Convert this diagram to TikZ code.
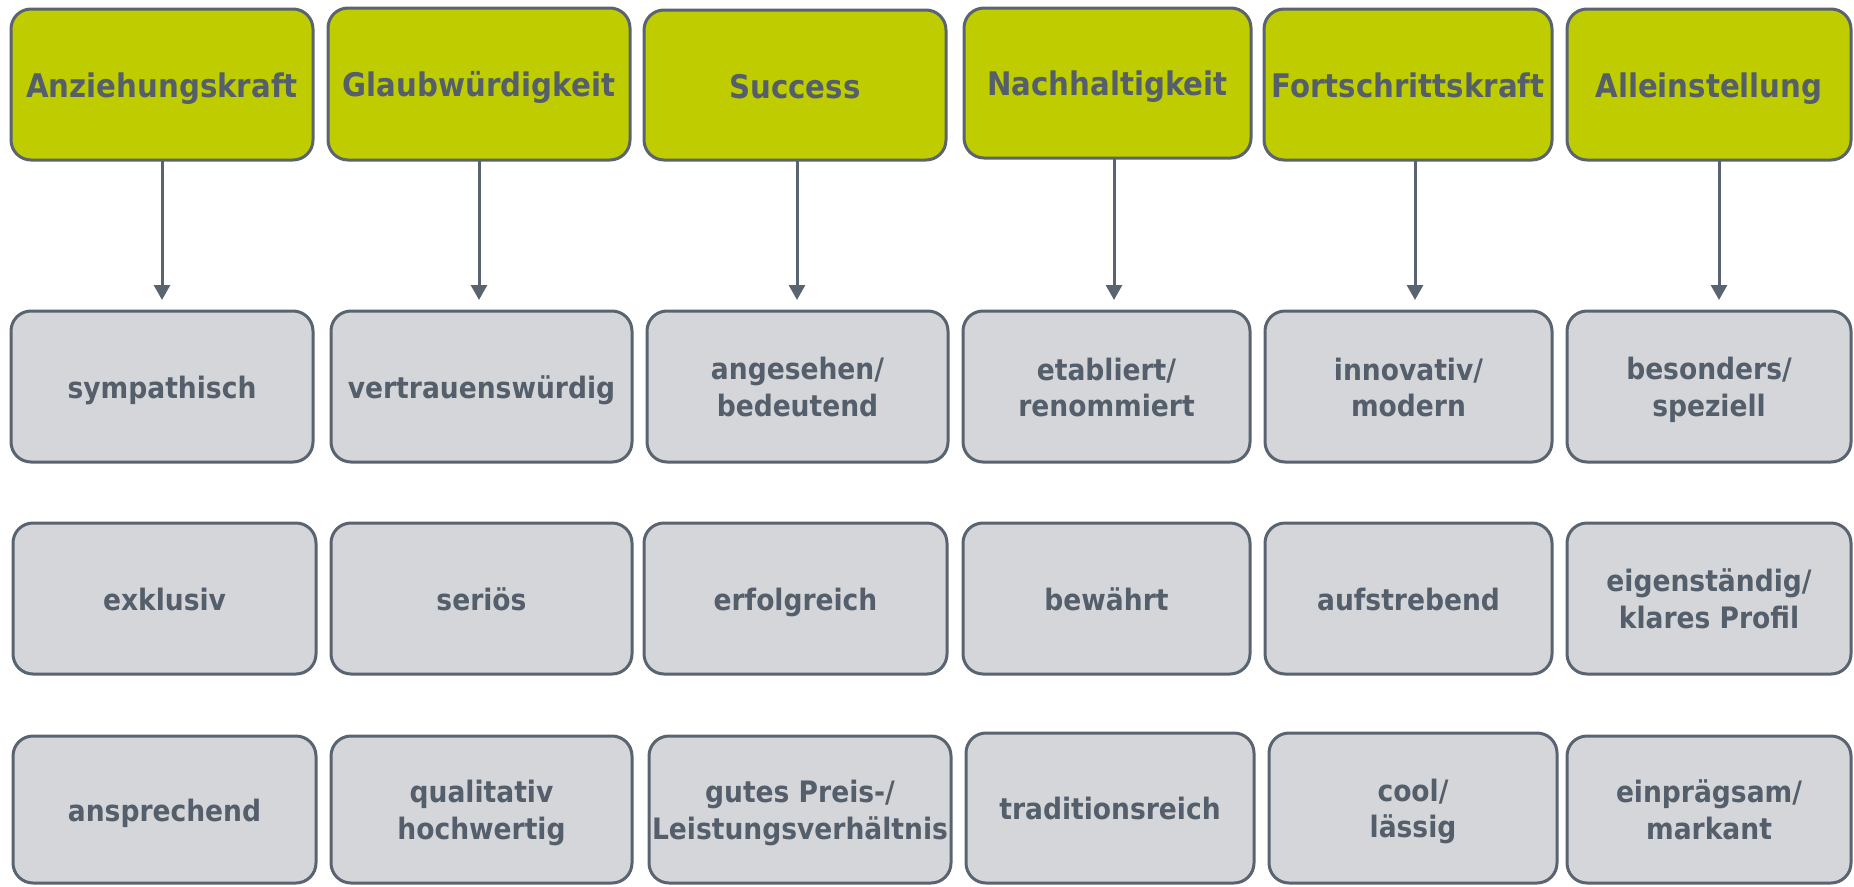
\documentclass[tikz,border=0pt]{standalone}
\usepackage{fontspec}
\setmainfont{DejaVu Sans Condensed}[BoldFont={DejaVu Sans Condensed Bold}]
\usetikzlibrary{arrows.meta}
\definecolor{lime}{HTML}{BFCD00}
\definecolor{edge}{HTML}{5A6470}
\definecolor{txt}{HTML}{545F6B}
\definecolor{boxgray}{HTML}{D4D6DA}
\newcommand{\mystrut}{\vrule width 0pt height 1.0em depth 0.2em\relax}
\newcommand{\nl}{\\\mystrut}
\tikzset{
  base/.style={draw=edge, line width=3pt, rounded corners=20pt, inner sep=0pt, outer sep=0pt,
    text=txt, align=center},
  head/.style={base, fill=lime, font=\fontsize{32.5}{38}\selectfont\bfseries},
  attr/.style={base, fill=boxgray, font=\fontsize{29.5}{35}\selectfont\bfseries},
  arr/.style={draw=edge, line width=3pt, -{Triangle[width=16pt,length=15pt]}},
}
\newcommand{\bx}[7]{%
  \pgfmathsetmacro{\cx}{(#2+#4)/2}\pgfmathsetmacro{\cy}{(#3+#5)/2}%
  \pgfmathsetmacro{\ww}{#4-#2}\pgfmathsetmacro{\hh}{#5-#3}%
  \node[#6, minimum width=\ww pt, minimum height=\hh pt] (#1) at (\cx,\cy) {\mystrut #7};}
\begin{document}
\begin{tikzpicture}[x=1pt,y=-1pt]
\useasboundingbox (0,0) rectangle (1854,886);
% header row
\bx{t1}{11}{9}{313}{160}{head}{Anziehungskraft}
\bx{t2}{328}{8}{630}{160}{head}{Glaubwürdigkeit}
\bx{t3}{644}{10}{946}{160}{head}{Success}
\bx{t4}{964}{8}{1251}{158}{head}{Nachhaltigkeit}
\bx{t5}{1264}{9}{1552}{160}{head}{Fortschrittskraft}
\bx{t6}{1567}{9}{1851}{160}{head}{Alleinstellung}
% row 2
\bx{a1}{11}{311}{313}{462}{attr}{sympathisch}
\bx{a2}{331}{311}{632}{462}{attr}{vertrauenswürdig}
\bx{a3}{647}{311}{948}{462}{attr}{angesehen/\nl bedeutend}
\bx{a4}{963}{311}{1250}{462}{attr}{etabliert/\nl renommiert}
\bx{a5}{1265}{311}{1552}{462}{attr}{innovativ/\nl modern}
\bx{a6}{1567}{311}{1851}{462}{attr}{besonders/\nl speziell}
% row 3
\bx{b1}{13}{523}{316}{674}{attr}{exklusiv}
\bx{b2}{331}{523}{632}{674}{attr}{seriös}
\bx{b3}{644}{523}{947}{674}{attr}{erfolgreich}
\bx{b4}{963}{523}{1250}{674}{attr}{bewährt}
\bx{b5}{1265}{523}{1552}{674}{attr}{aufstrebend}
\bx{b6}{1567}{523}{1851}{674}{attr}{eigenständig/\nl klares Profil}
% row 4
\bx{c1}{13}{736}{316}{883}{attr}{ansprechend}
\bx{c2}{331}{736}{632}{883}{attr}{qualitativ\nl hochwertig}
\bx{c3}{649}{736}{951}{883}{attr}{gutes Preis-/\nl Leistungsverhältnis}
\bx{c4}{966}{733}{1254}{883}{attr}{traditionsreich}
\bx{c5}{1269}{733}{1557}{883}{attr}{cool/\nl lässig}
\bx{c6}{1567}{736}{1851}{883}{attr}{einprägsam/\nl markant}
% arrows
\coordinate (e1) at (162,300);
\coordinate (e2) at (479,300);
\coordinate (e3) at (797,300);
\coordinate (e4) at (1114,300);
\coordinate (e5) at (1415,300);
\coordinate (e6) at (1719,300);
\foreach \i in {1,...,6}{\draw[arr] (t\i.south -| e\i) -- (e\i);}
\end{tikzpicture}
\end{document}
